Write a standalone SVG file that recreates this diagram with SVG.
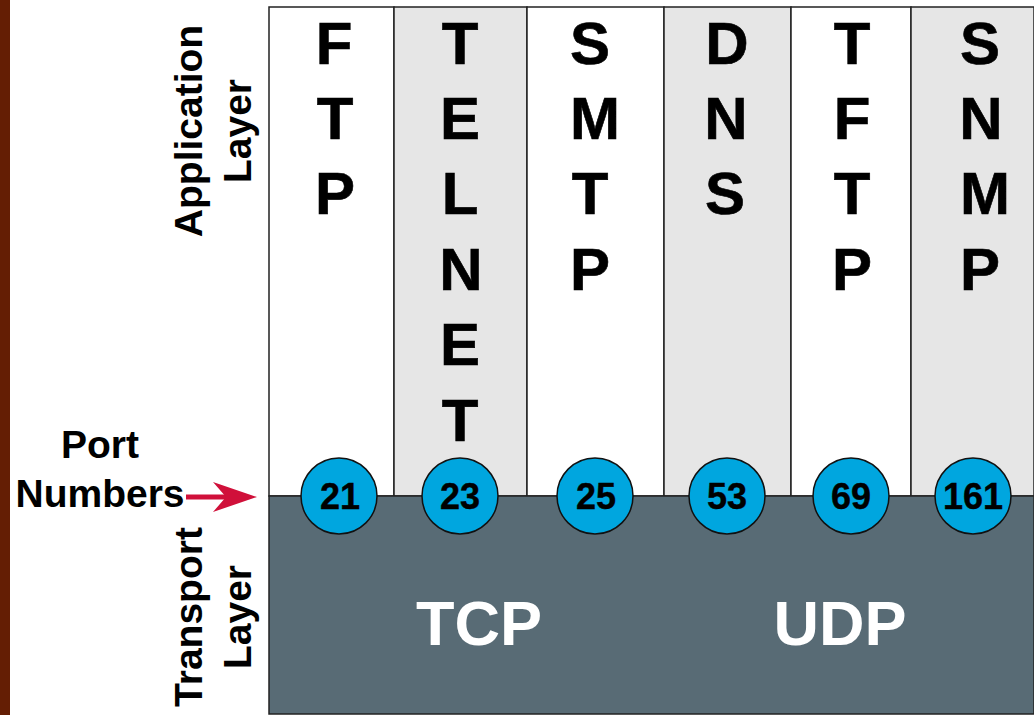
<svg xmlns="http://www.w3.org/2000/svg" width="1034" height="715" viewBox="0 0 1034 715">
<style>
.t{font-family:"Liberation Sans",Arial,sans-serif;font-weight:700;fill:#000}
.c{font-size:60px;text-anchor:middle;stroke:#000;stroke-width:.6}
.l{font-size:39px;text-anchor:middle}
.n{font-size:36px;text-anchor:middle;stroke:#000;stroke-width:.4}
.b{font-size:63px;text-anchor:middle;fill:#fff}
.p{stroke:#222;stroke-width:1.5}
.o{fill:#00a6df;stroke:#111;stroke-width:1.5}
</style>
<rect width="1034" height="715" fill="#fff"/>
<rect width="10" height="715" fill="#641e04"/>
<g id="columns">
<rect class="p" x="269" y="7" width="125" height="489" fill="#fff"/>
<rect class="p" x="394" y="7" width="133" height="489" fill="#e6e6e6"/>
<rect class="p" x="527" y="7" width="137" height="489" fill="#fff"/>
<rect class="p" x="664" y="7" width="127" height="489" fill="#e6e6e6"/>
<rect class="p" x="791" y="7" width="120" height="489" fill="#fff"/>
<rect class="p" x="911" y="7" width="123" height="489" fill="#e6e6e6"/>
</g>
<g id="transport"><rect class="p" x="269" y="496" width="765" height="218" fill="#586b75"/>
<text class="t b" x="479" y="645">TCP</text><text class="t b" x="840" y="645">UDP</text></g>
<g id="ftp" class="t c"><text x="334" y="64">F</text><text x="335" y="139">T</text><text x="335" y="214">P</text></g>
<g id="telnet" class="t c"><text x="460" y="64">T</text><text x="460" y="139">E</text><text x="460" y="214">L</text><text x="461" y="290">N</text><text x="460" y="365">E</text><text x="460" y="441">T</text></g>
<g id="smtp" class="t c"><text x="590" y="64">S</text><text x="595" y="139">M</text><text x="590" y="214">T</text><text x="590" y="290">P</text></g>
<g id="dns" class="t c"><text x="727" y="64">D</text><text x="726" y="139">N</text><text x="725" y="214">S</text></g>
<g id="tftp" class="t c"><text x="852" y="64">T</text><text x="852" y="139">F</text><text x="852" y="214">T</text><text x="852" y="290">P</text></g>
<g id="snmp" class="t c"><text x="980" y="64">S</text><text x="981" y="139">N</text><text x="985" y="214">M</text><text x="980" y="290">P</text></g>
<g id="ports" class="t n">
<circle class="o" cx="339" cy="496" r="38"/><text x="340" y="509">21</text>
<circle class="o" cx="460" cy="496" r="38"/><text x="460" y="509">23</text>
<circle class="o" cx="595" cy="496" r="38"/><text x="596" y="509">25</text>
<circle class="o" cx="727" cy="496" r="38"/><text x="727" y="509">53</text>
<circle class="o" cx="851" cy="496" r="38"/><text x="851" y="509">69</text>
<circle class="o" cx="973" cy="496" r="38"/><text x="973" y="509">161</text>
</g>
<g id="labels" class="t l">
<text x="100" y="458">Port</text>
<text x="100" y="507">Numbers</text>
<text transform="translate(202,131) rotate(-90)">Application</text>
<text transform="translate(251,131) rotate(-90)">Layer</text>
<text transform="translate(202,617) rotate(-90)">Transport</text>
<text transform="translate(251,617) rotate(-90)">Layer</text>
</g>
<g id="connectors"><path d="M186 497H232" stroke="#d0103a" stroke-width="5" fill="none"/><path d="M257 497L213 482L226 497L213 512Z" fill="#d0103a"/></g>
</svg>
